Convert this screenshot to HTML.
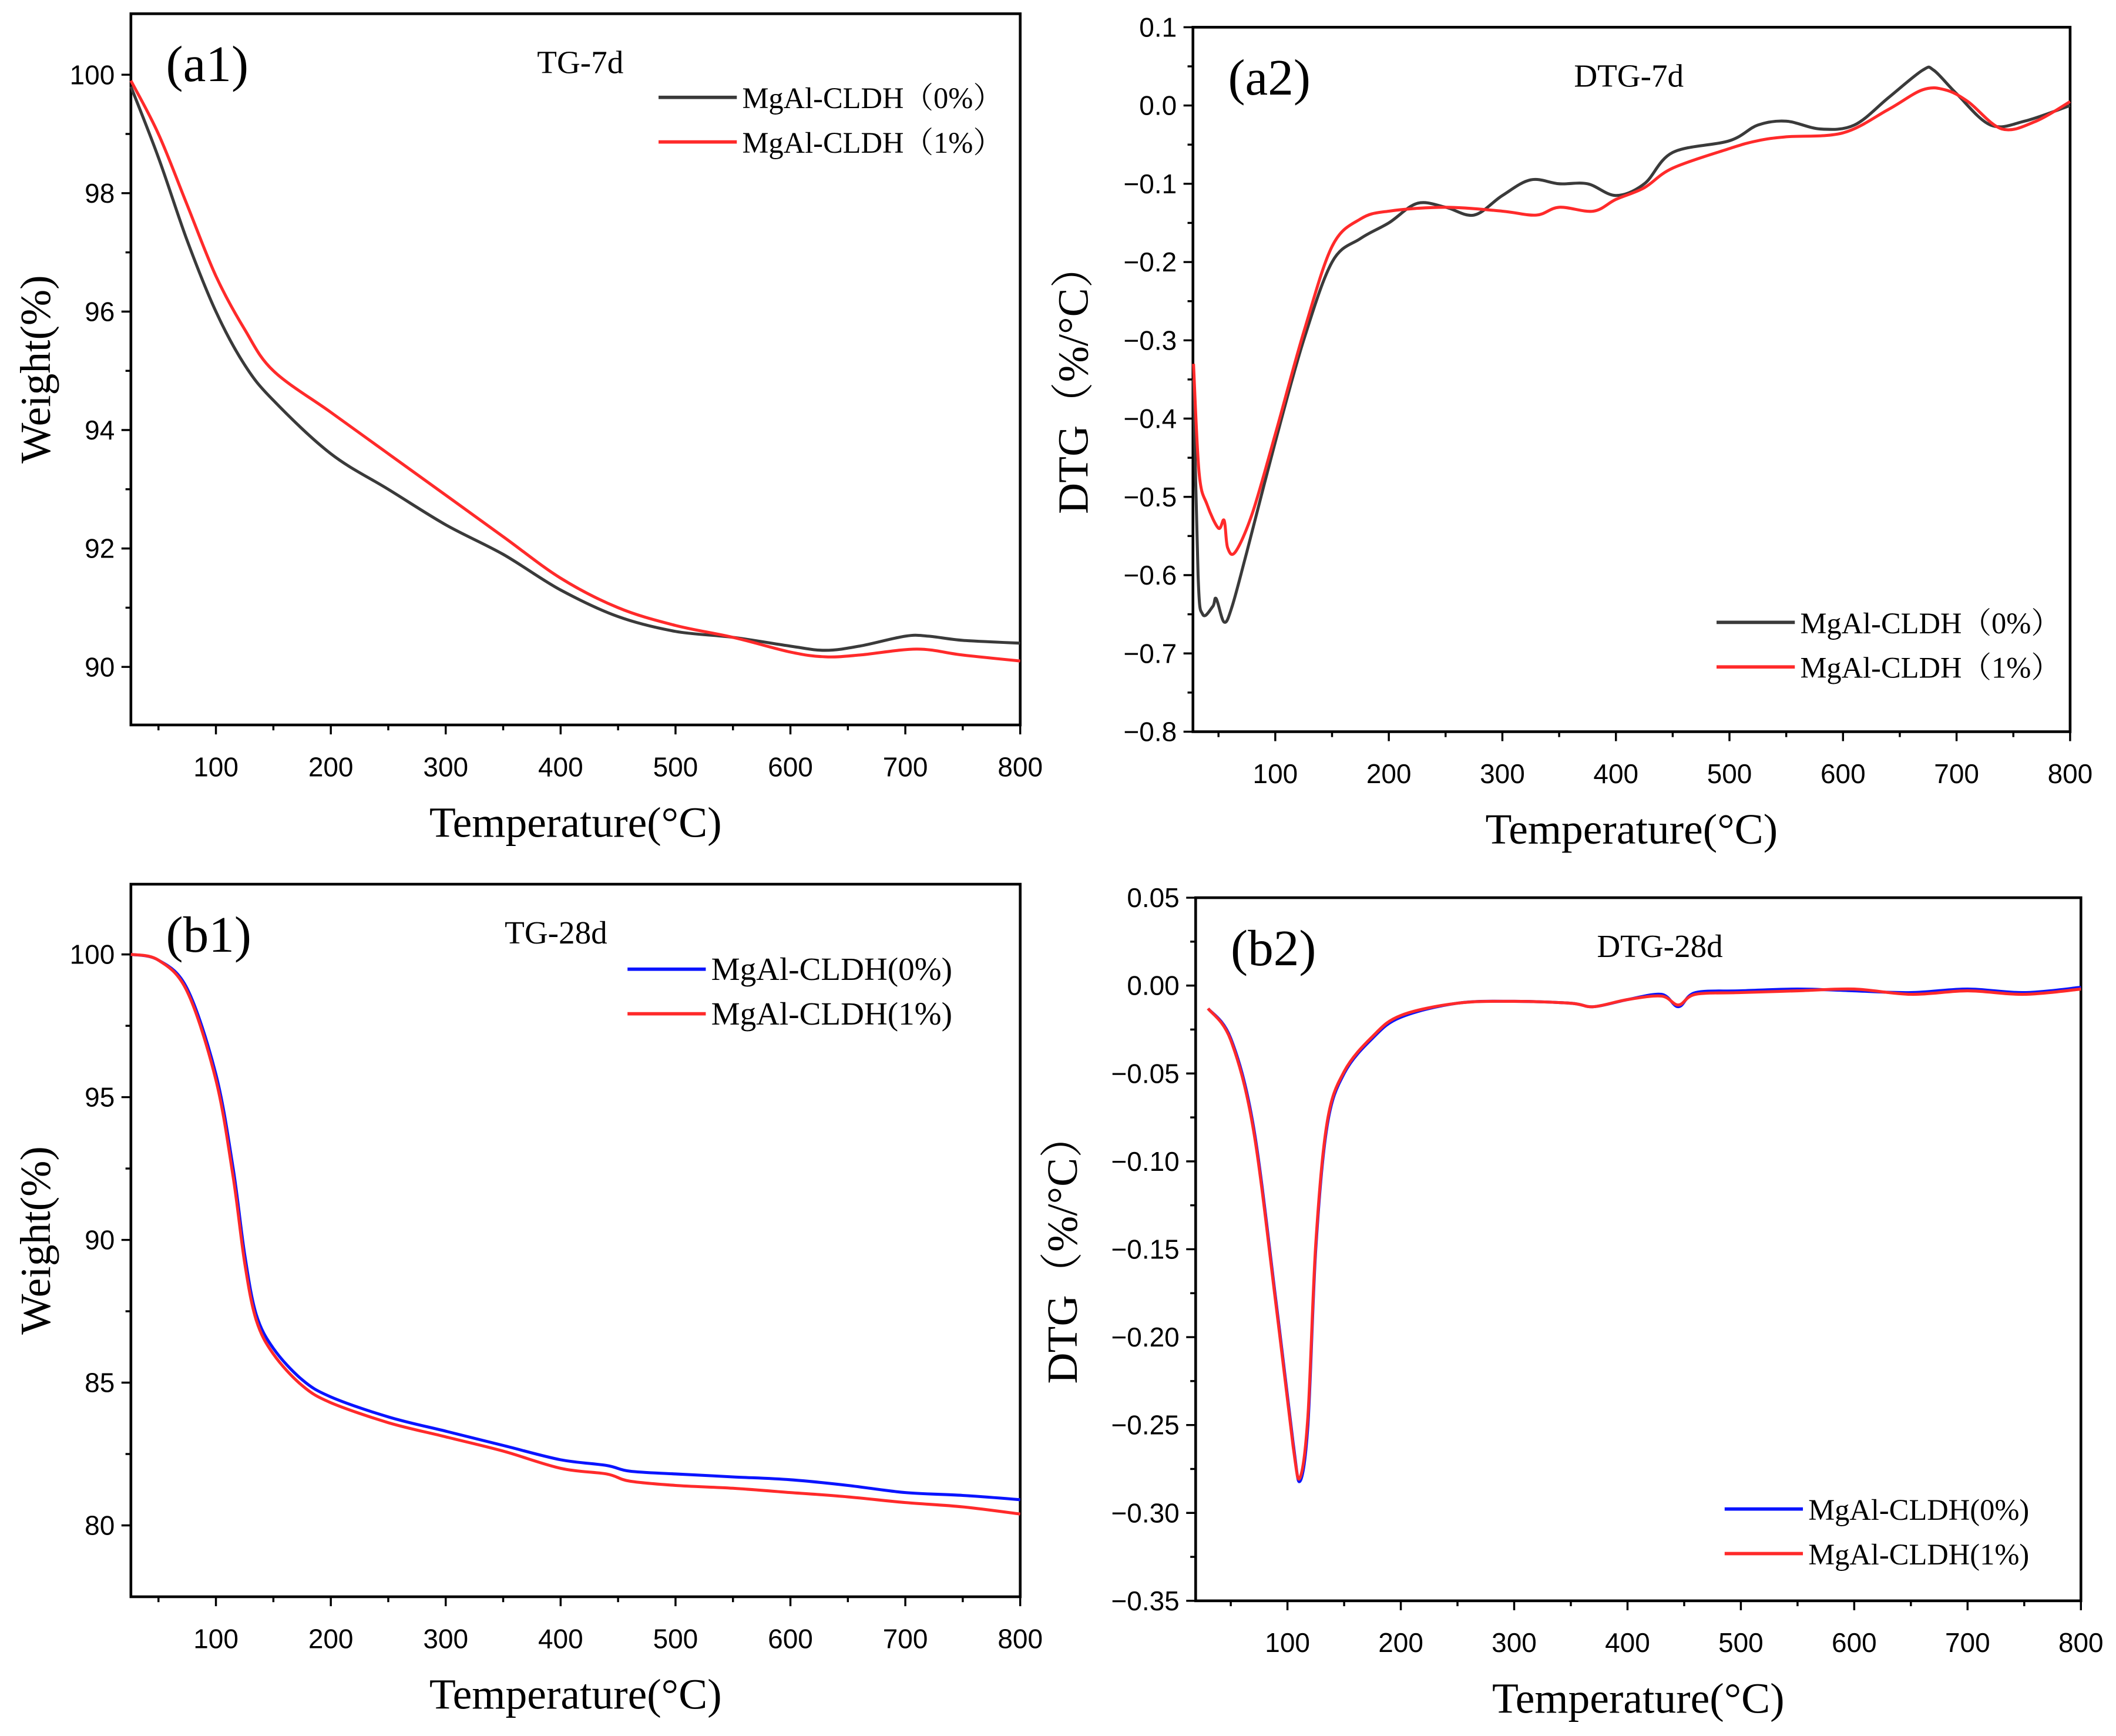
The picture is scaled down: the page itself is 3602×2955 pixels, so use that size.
<!DOCTYPE html>
<html><head><meta charset="utf-8"><style>
html,body{margin:0;padding:0;background:#fff;}
svg{display:block;}
</style></head><body>
<svg id="fig" width="3602" height="2955" viewBox="0 0 1568 1286" xmlns="http://www.w3.org/2000/svg"></svg>
<script>
// ---- data ----
const tg7Temp0 = [26,50,75,100,125,150,200,250,300,350,400,450,500,550,600,630,660,700,720,750,800];
const tg7Val0 = [99.8,98.6,97.2,96.0,95.1,94.5,93.6,93.0,92.4,91.9,91.3,90.85,90.6,90.5,90.35,90.28,90.35,90.52,90.52,90.45,90.4];
const tg7Temp1 = [26,50,75,100,125,150,200,250,300,350,400,450,500,550,600,630,660,710,750,800];
const tg7Val1 = [99.9,99.0,97.8,96.6,95.7,95.0,94.3,93.6,92.9,92.2,91.5,91.0,90.7,90.5,90.25,90.17,90.2,90.3,90.2,90.1];

const dtg7Temp0 = [28,32,36,45,48,55,62,75,100,125,150,175,200,225,250,275,300,325,350,375,400,425,450,500,525,550,580,610,640,670,680,700,730,760,800];
const dtg7Val0 = [-0.35,-0.6,-0.65,-0.64,-0.63,-0.66,-0.64,-0.57,-0.43,-0.3,-0.2,-0.17,-0.15,-0.125,-0.13,-0.14,-0.115,-0.095,-0.1,-0.1,-0.115,-0.1,-0.06,-0.045,-0.025,-0.02,-0.03,-0.025,0.01,0.045,0.045,0.015,-0.025,-0.02,0.0];
const dtg7Temp1 = [28,33,40,50,55,58,65,80,100,125,150,175,200,250,300,330,350,380,400,425,450,500,525,550,600,640,670,690,710,740,770,800];
const dtg7Val1 = [-0.33,-0.47,-0.51,-0.54,-0.53,-0.565,-0.57,-0.52,-0.42,-0.29,-0.18,-0.145,-0.135,-0.13,-0.135,-0.14,-0.13,-0.135,-0.12,-0.105,-0.08,-0.055,-0.045,-0.04,-0.035,-0.005,0.02,0.02,0.005,-0.03,-0.02,0.005];

const tg28Temp = [26,50,75,100,115,125,135,150,175,200,250,300,350,400,440,460,500,550,600,650,700,750,800];
const tg28Val0 = [100,99.8,98.8,95.8,92.5,89.5,87.4,86.2,85.1,84.5,83.8,83.3,82.8,82.3,82.1,81.9,81.8,81.7,81.6,81.4,81.15,81.05,80.9];
const tg28Val1 = [100,99.8,98.7,95.6,92.2,89.2,87.2,86.0,84.9,84.3,83.6,83.1,82.6,82.0,81.8,81.55,81.4,81.3,81.15,81.0,80.8,80.65,80.4];

const dtg28Temp = [30,50,70,90,105,111,118,125,135,150,175,200,250,300,350,370,400,430,445,460,500,550,600,650,700,750,800];
const dtg28Val0 = [-0.013,-0.03,-0.08,-0.18,-0.26,-0.282,-0.25,-0.15,-0.08,-0.05,-0.03,-0.018,-0.01,-0.009,-0.01,-0.012,-0.008,-0.005,-0.012,-0.004,-0.003,-0.002,-0.003,-0.004,-0.002,-0.004,-0.001];
const dtg28Val1 = [-0.013,-0.031,-0.082,-0.182,-0.262,-0.28,-0.245,-0.147,-0.078,-0.049,-0.029,-0.017,-0.01,-0.009,-0.01,-0.012,-0.008,-0.006,-0.011,-0.005,-0.004,-0.003,-0.002,-0.005,-0.003,-0.005,-0.002];

const xTicks = [100,200,300,400,500,600,700,800];
const ticksA1 = [90,92,94,96,98,100];
const ticksA2 = [0.1,0.0,-0.1,-0.2,-0.3,-0.4,-0.5,-0.6,-0.7,-0.8];
const ticksB1 = [80,85,90,95,100];
const ticksB2 = [0.05,0.00,-0.05,-0.10,-0.15,-0.20,-0.25,-0.30,-0.35];

const NS="http://www.w3.org/2000/svg";
const fig=document.getElementById('fig');
function mk(tag,attrs,parent){const e=document.createElementNS(NS,tag);for(const k in attrs)e.setAttribute(k,attrs[k]);(parent||fig).appendChild(e);return e;}

function smoothPath(pts){
  let d='M'+pts[0][0].toFixed(1)+','+pts[0][1].toFixed(1);
  for(let i=0;i<pts.length-1;i++){
    const p0=pts[Math.max(0,i-1)],p1=pts[i],p2=pts[i+1],p3=pts[Math.min(pts.length-1,i+2)];
    const c1x=p1[0]+(p2[0]-p0[0])/6,c1y=p1[1]+(p2[1]-p0[1])/6;
    const c2x=p2[0]-(p3[0]-p1[0])/6,c2y=p2[1]-(p3[1]-p1[1])/6;
    d+=` C${c1x.toFixed(1)},${c1y.toFixed(1)} ${c2x.toFixed(1)},${c2y.toFixed(1)} ${p2[0].toFixed(1)},${p2[1].toFixed(1)}`;
  }
  return d;
}

function panel(p){
  const g=mk('g',{});
  
  
  const sx=v=>p.x0+(v-p.xmin)/(p.xmax-p.xmin)*(p.x1-p.x0);
  const sy=v=>p.y1-(v-p.ymin)/(p.ymax-p.ymin)*(p.y1-p.y0);
  const fr=mk('rect',{x:p.x0,y:p.y0,width:p.x1-p.x0,height:p.y1-p.y0,fill:'none',stroke:'#000','stroke-width':2},g);
  
  
  xTicks.forEach((t,i)=>{
    const x=sx(t);
    mk('line',{x1:x,x2:x,y1:p.y1,y2:p.y1+7,stroke:'#000','stroke-width':1.5},g);
    const xm=sx(t-50); if(t-50>p.xmin) mk('line',{x1:xm,x2:xm,y1:p.y1,y2:p.y1+4,stroke:'#000','stroke-width':1.5},g);
    const tx=mk('text',{x:x,y:p.y1+38,'text-anchor':'middle','font-family':'Liberation Sans, sans-serif','font-size':20},g);
    tx.textContent=t;
    
    
  });
  p.yt.forEach((t,i)=>{
    const y=sy(t);
    mk('line',{x1:p.x0-7,x2:p.x0,y1:y,y2:y,stroke:'#000','stroke-width':1.5},g);
    if(i<p.yt.length-1){const ym=(y+sy(p.yt[i+1]))/2;mk('line',{x1:p.x0-4,x2:p.x0,y1:ym,y2:ym,stroke:'#000','stroke-width':1.5},g);}
    const tx=mk('text',{x:p.x0-12,y:y+7,'text-anchor':'end','font-family':'Liberation Sans, sans-serif','font-size':20},g);
    tx.textContent=p.fmt(t);
    
    
  });
  const xt=mk('text',{x:(p.x0+p.x1)/2,y:p.y1+83,'text-anchor':'middle','font-family':'Liberation Serif, serif','font-size':32},g);
  xt.textContent='Temperature(°C)';
  
  
  const cy=(p.y0+p.y1)/2;
  const yt=mk('text',{x:p.x0-p.ytOff,y:cy,'text-anchor':'middle','font-family':'Liberation Serif, "Noto Serif CJK SC", serif','font-size':32,transform:`rotate(-90 ${p.x0-p.ytOff} ${cy})`},g);
  yt.textContent=p.ytitle;
  
  
  const pl=mk('text',{x:p.x0+26,y:p.y0+50,'font-family':'Liberation Serif, serif','font-size':38},g);
  pl.textContent=p.label;
  
  
  const tt=mk('text',{x:p.titleX,y:p.y0+44,'text-anchor':'middle','font-family':'Liberation Serif, serif','font-size':24},g);
  tt.textContent=p.title;
  
  
  p.series.forEach((s,k)=>{
    const pts=s.t.map((t,i)=>[sx(t),sy(s.v[i])]);
    const path=mk('path',{d:smoothPath(pts),fill:'none',stroke:s.c,'stroke-width':2.2,'stroke-linejoin':'round'},g);
    
    
    const ly=p.legY+k*33;
    mk('line',{x1:p.legX,x2:p.legX+58,y1:ly,y2:ly,stroke:s.c,'stroke-width':2.5},g);
    const lt=mk('text',{x:p.legX+62,y:ly+8,'font-family':'Liberation Serif, "Noto Serif CJK SC", serif','font-size':p.legFs||22},g);
    lt.textContent=s.label;
    
    
  });
}
const f0=v=>String(v), f1=v=>v.toFixed(1).replace('-','−'), f2=v=>v.toFixed(2).replace('-','−');
panel({name:'panel-a1-tg-7d',x0:97,x1:756,y0:10,y1:537,xmin:26,xmax:800,ymin:89.02,ymax:101.03,yt:ticksA1,fmt:f0,ytOff:60,ytitle:'Weight(%)',label:'(a1)',title:'TG-7d',titleX:430,legX:488,legY:72,
  series:[{key:'0pct',t:tg7Temp0,v:tg7Val0,c:'#3a3a3a',label:'MgAl-CLDH（0%）'},{key:'1pct',t:tg7Temp1,v:tg7Val1,c:'#ff2a2a',label:'MgAl-CLDH（1%）'}]});
panel({name:'panel-a2-dtg-7d',x0:884,x1:1534,y0:20,y1:542,xmin:27.5,xmax:800,ymin:-0.8,ymax:0.1,yt:ticksA2,fmt:f1,ytOff:78,ytitle:'DTG（%/°C）',label:'(a2)',title:'DTG-7d',titleX:1207,legX:1272,legY:461,
  series:[{key:'0pct',t:dtg7Temp0,v:dtg7Val0,c:'#3a3a3a',label:'MgAl-CLDH（0%）'},{key:'1pct',t:dtg7Temp1,v:dtg7Val1,c:'#ff2a2a',label:'MgAl-CLDH（1%）'}]});
panel({name:'panel-b1-tg-28d',x0:97,x1:756,y0:655,y1:1183,xmin:26,xmax:800,ymin:77.5,ymax:102.46,yt:ticksB1,fmt:f0,ytOff:60,ytitle:'Weight(%)',label:'(b1)',title:'TG-28d',titleX:412,legX:465,legY:718,legFs:24,
  series:[{key:'0pct',t:tg28Temp,v:tg28Val0,c:'#0a14ff',label:'MgAl-CLDH(0%)'},{key:'1pct',t:tg28Temp,v:tg28Val1,c:'#ff2a2a',label:'MgAl-CLDH(1%)'}]});
panel({name:'panel-b2-dtg-28d',x0:886,x1:1542,y0:665,y1:1186,xmin:19,xmax:800,ymin:-0.35,ymax:0.05,yt:ticksB2,fmt:f2,ytOff:88,ytitle:'DTG（%/°C）',label:'(b2)',title:'DTG-28d',titleX:1230,legX:1278,legY:1118,
  series:[{key:'0pct',t:dtg28Temp,v:dtg28Val0,c:'#0a14ff',label:'MgAl-CLDH(0%)'},{key:'1pct',t:dtg28Temp,v:dtg28Val1,c:'#ff2a2a',label:'MgAl-CLDH(1%)'}]});
</script>
</body></html>
